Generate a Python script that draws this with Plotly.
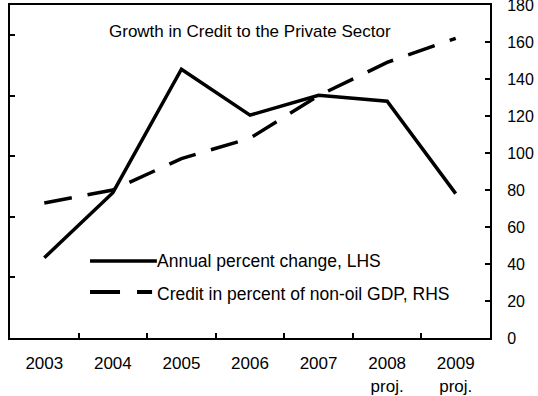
import plotly.graph_objects as go

years = ["2003", "2004", "2005", "2006", "2007", "2008<br>proj.", "2009<br>proj."]
annual_pct_change = [26.5, 48.0, 88.8, 73.6, 80.2, 78.2, 47.7]   # LHS (unlabelled axis)
credit_pct_nonoil_gdp = [73, 80, 97, 108, 131, 149, 162]          # RHS

FONT = "Liberation Sans, Arial, sans-serif"
FS = 17

fig = go.Figure()
fig.add_trace(go.Scatter(x=years, y=annual_pct_change, mode="lines",
                         line=dict(color="black", width=3.5),
                         name="Annual percent change, LHS", yaxis="y"))
fig.add_trace(go.Scatter(x=years, y=credit_pct_nonoil_gdp, mode="lines",
                         line=dict(color="black", width=3.5, dash="28px,16px"),
                         name="Credit in percent of non-oil GDP, RHS", yaxis="y2"))

# manual legend
fig.add_shape(type="line", xref="paper", yref="paper", x0=0.1667, x1=0.306, y0=0.231, y1=0.231,
              line=dict(color="black", width=3.5))
fig.add_shape(type="line", xref="paper", yref="paper", x0=0.1667, x1=0.296, y0=0.138, y1=0.138,
              line=dict(color="black", width=4, dash="30px,17px"))
fig.add_annotation(xref="paper", yref="paper", x=0.302, y=0.231, xanchor="left", yanchor="middle",
                   text="Annual percent change, LHS", showarrow=False,
                   font=dict(family=FONT, size=17.5, color="black"))
fig.add_annotation(xref="paper", yref="paper", x=0.302, y=0.133, xanchor="left", yanchor="middle",
                   text="Credit in percent of non-oil GDP, RHS", showarrow=False,
                   font=dict(family=FONT, size=17.5, color="black"))
fig.add_annotation(xref="paper", yref="paper", x=0.5, y=0.919, xanchor="center", yanchor="middle",
                   text="Growth in Credit to the Private Sector", showarrow=False,
                   font=dict(family=FONT, size=FS, color="black"))

fig.update_layout(
    width=538, height=396,
    margin=dict(l=10, r=48, t=5, b=58, autoexpand=False),
    paper_bgcolor="white", plot_bgcolor="white",
    showlegend=False,
    font=dict(family=FONT, size=FS, color="black"),
    xaxis=dict(type="category", range=[-0.5, 6.5], tickson="boundaries", ticks="inside",
               ticklen=5, tickcolor="black", tickwidth=1.5, showline=True, linecolor="black",
               linewidth=2, mirror=True, showgrid=False, zeroline=False, automargin=False,
               ticklabelstandoff=9, tickfont=dict(size=FS)),
    yaxis=dict(range=[0, 110], dtick=20, ticks="inside", ticklen=5, tickcolor="black",
               tickwidth=1.5, showticklabels=False, showline=True, linecolor="black",
               linewidth=2, showgrid=False, zeroline=False, automargin=False),
    yaxis2=dict(range=[0, 180], dtick=20, overlaying="y", side="right", ticks="inside",
                ticklen=5, tickcolor="black", tickwidth=1.5, showline=True,
                linecolor="black", linewidth=2, showgrid=False, zeroline=False,
                automargin=False, ticklabelstandoff=12, ticklabeloverflow="allow",
                tickfont=dict(size=16)),
)

fig.write_html("out.html", config={"displayModeBar": False},
               post_script="document.body.style.margin='0';document.body.style.overflow='hidden';")
